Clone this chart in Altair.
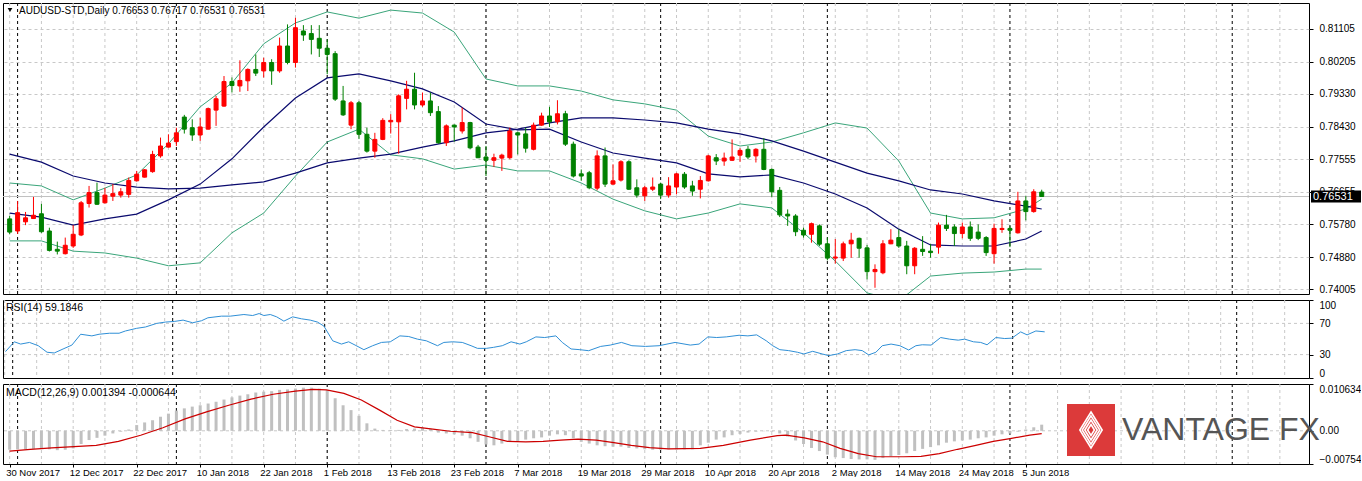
import altair as alt
import pandas as pd

# ---------------- data ----------------
date_labels = ["30 Nov 2017", "12 Dec 2017", "22 Dec 2017", "10 Jan 2018", "22 Jan 2018",
               "1 Feb 2018", "13 Feb 2018", "23 Feb 2018", "7 Mar 2018", "19 Mar 2018",
               "29 Mar 2018", "10 Apr 2018", "20 Apr 2018", "2 May 2018", "14 May 2018",
               "24 May 2018", "5 Jun 2018"]
date_label_idx = [0, 8, 16, 24, 32, 40, 48, 56, 64, 72, 80, 88, 96, 104, 112, 120, 128]
month_sep_idx = [1, 21, 40, 60, 82, 103, 126, 154]
grid_idx = list(range(0, 164, 4))
price_ticks = [0.74005, 0.74880, 0.75780, 0.76655, 0.77555, 0.78430, 0.79330, 0.80205, 0.81105]
rsi_ticks = [0, 30, 70, 100]
rsi_levels = [30, 70]
macd_ticks = [-0.007542, 0.0, 0.010634]
last_price = [0.76531]

opens = [0.7592, 0.7559, 0.7584, 0.7593, 0.7606, 0.7559, 0.7509, 0.7497, 0.7518, 0.7548,
         0.7634, 0.7664, 0.7636, 0.7654, 0.7657, 0.7659, 0.7696, 0.7706, 0.7721, 0.7764,
         0.7788, 0.7803, 0.7870, 0.7841, 0.7821, 0.7837, 0.7889, 0.7900, 0.7967, 0.7955,
         0.7969, 0.8000, 0.7996, 0.8019, 0.7996, 0.8064, 0.8019, 0.8105, 0.8098, 0.8085,
         0.8058, 0.8043, 0.7914, 0.7848, 0.7909, 0.7823, 0.7777, 0.7809, 0.7857, 0.7857,
         0.7921, 0.7946, 0.7903, 0.7914, 0.7885, 0.7800, 0.7848, 0.7832, 0.7855, 0.7788,
         0.7761, 0.7752, 0.7758, 0.7759, 0.7827, 0.7824, 0.7782, 0.7848, 0.7873, 0.7857,
         0.7879, 0.7796, 0.7715, 0.7718, 0.7676, 0.7764, 0.7687, 0.7698, 0.7748, 0.7677,
         0.7655, 0.7673, 0.7687, 0.7657, 0.7679, 0.7714, 0.7682, 0.7673, 0.7696, 0.7759,
         0.7750, 0.7752, 0.7766, 0.7782, 0.7764, 0.7782, 0.7727, 0.7670, 0.7605, 0.7600,
         0.7561, 0.7550, 0.7573, 0.7524, 0.7485, 0.7485, 0.7524, 0.7539, 0.7513, 0.7448,
         0.7445, 0.7524, 0.7541, 0.7518, 0.7464, 0.7509, 0.7504, 0.7515, 0.7575, 0.7570,
         0.7552, 0.7570, 0.7556, 0.7541, 0.7497, 0.7563, 0.7566, 0.7554, 0.7641, 0.7612,
         0.76653]
highs = [0.7600, 0.7641, 0.7611, 0.7652, 0.7633, 0.7568, 0.7530, 0.7541, 0.7575, 0.7641,
         0.7682, 0.7691, 0.7677, 0.7687, 0.7676, 0.7705, 0.7723, 0.7728, 0.7778, 0.7814,
         0.7823, 0.7841, 0.7876, 0.7864, 0.7868, 0.7896, 0.7928, 0.7982, 0.7978, 0.8025,
         0.8003, 0.8041, 0.8032, 0.8028, 0.8087, 0.8123, 0.8141, 0.8121, 0.8121, 0.8121,
         0.8082, 0.8050, 0.7955, 0.7914, 0.7914, 0.7841, 0.7827, 0.7867, 0.7878, 0.7932,
         0.7969, 0.7991, 0.7937, 0.7937, 0.7900, 0.7850, 0.7850, 0.7896, 0.7857, 0.7794,
         0.7791, 0.7770, 0.7770, 0.7841, 0.7830, 0.7841, 0.7855, 0.7882, 0.7898, 0.7916,
         0.7887, 0.7803, 0.7727, 0.7723, 0.7779, 0.7787, 0.7741, 0.7752, 0.7752, 0.7700,
         0.7682, 0.7705, 0.7691, 0.7706, 0.7718, 0.7720, 0.7696, 0.7709, 0.7767, 0.7769,
         0.7773, 0.7809, 0.7785, 0.7791, 0.7785, 0.7812, 0.7730, 0.7679, 0.7618, 0.7605,
         0.7568, 0.7582, 0.7577, 0.7541, 0.7537, 0.7530, 0.7554, 0.7541, 0.7521, 0.7468,
         0.7534, 0.7564, 0.7564, 0.7532, 0.7515, 0.7545, 0.7523, 0.7582, 0.7603, 0.7577,
         0.7582, 0.7585, 0.7577, 0.7545, 0.7579, 0.7591, 0.7573, 0.7666, 0.7654, 0.7673,
         0.76717]
lows = [0.7550, 0.7551, 0.7575, 0.7592, 0.7554, 0.7503, 0.7495, 0.7495, 0.7513, 0.7545,
        0.7623, 0.7630, 0.7634, 0.7641, 0.7650, 0.7650, 0.7694, 0.7705, 0.7718, 0.7759,
        0.7787, 0.7791, 0.7825, 0.7805, 0.7805, 0.7836, 0.7846, 0.7898, 0.7937, 0.7939,
        0.7941, 0.7982, 0.7978, 0.7958, 0.7991, 0.8014, 0.8005, 0.8078, 0.8041, 0.8034,
        0.7987, 0.7914, 0.7873, 0.7837, 0.7810, 0.7773, 0.7759, 0.7807, 0.7825, 0.7770,
        0.7891, 0.7891, 0.7898, 0.7873, 0.7797, 0.7791, 0.7803, 0.7825, 0.7782, 0.7758,
        0.7709, 0.7734, 0.7723, 0.7755, 0.7768, 0.7773, 0.7779, 0.7846, 0.7843, 0.7850,
        0.7791, 0.7705, 0.7696, 0.7673, 0.7670, 0.7679, 0.7685, 0.7694, 0.7671, 0.7650,
        0.7641, 0.7668, 0.7646, 0.7650, 0.7659, 0.7674, 0.7655, 0.7648, 0.7694, 0.7739,
        0.7737, 0.7750, 0.7748, 0.7755, 0.7746, 0.7725, 0.7652, 0.7597, 0.7573, 0.7545,
        0.7541, 0.7527, 0.7518, 0.7479, 0.7470, 0.7477, 0.7486, 0.7486, 0.7427, 0.7404,
        0.7441, 0.7523, 0.7513, 0.7441, 0.7441, 0.7491, 0.7486, 0.7497, 0.7559, 0.7518,
        0.7539, 0.7532, 0.7534, 0.7491, 0.7470, 0.7554, 0.7515, 0.7552, 0.7588, 0.7609,
        0.76531]
closes = [0.7556, 0.7609, 0.7595, 0.7602, 0.7557, 0.7506, 0.7504, 0.7520, 0.7550, 0.7636,
          0.7664, 0.7632, 0.7657, 0.7661, 0.7666, 0.7697, 0.7714, 0.7726, 0.7768, 0.7791,
          0.7799, 0.7827, 0.7837, 0.7821, 0.7843, 0.7893, 0.7920, 0.7967, 0.7956, 0.7970,
          0.8000, 0.7990, 0.8019, 0.7996, 0.8064, 0.8019, 0.8114, 0.8094, 0.8082, 0.8058,
          0.8041, 0.7919, 0.7876, 0.7909, 0.7823, 0.7777, 0.7809, 0.7861, 0.7861, 0.7928,
          0.7946, 0.7903, 0.7914, 0.7882, 0.7800, 0.7846, 0.7843, 0.7855, 0.7786, 0.7759,
          0.7752, 0.7759, 0.7766, 0.7832, 0.7821, 0.7785, 0.7848, 0.7873, 0.7857, 0.7879,
          0.7796, 0.7709, 0.7709, 0.7677, 0.7764, 0.7687, 0.7696, 0.7748, 0.7673, 0.7657,
          0.7677, 0.7679, 0.7657, 0.7682, 0.7715, 0.7679, 0.7668, 0.7697, 0.7764, 0.7750,
          0.7758, 0.7761, 0.7779, 0.7761, 0.7782, 0.7727, 0.7666, 0.7603, 0.7600, 0.7557,
          0.7548, 0.7579, 0.7523, 0.7485, 0.7488, 0.7524, 0.7534, 0.7512, 0.7448, 0.7454,
          0.7524, 0.7534, 0.7518, 0.7464, 0.7512, 0.7503, 0.7500, 0.7575, 0.7566, 0.7552,
          0.7570, 0.7539, 0.7539, 0.7500, 0.7566, 0.7566, 0.7561, 0.7641, 0.7612, 0.7666,
          0.76531]

band_idx = [0, 4, 8, 12, 16, 20, 24, 28, 32, 36, 40, 44, 48, 52, 56, 60, 64, 68, 72, 76,
            80, 84, 88, 92, 96, 100, 104, 108, 112, 116, 120, 124, 128, 130]
bb_upper = [0.7690, 0.7682, 0.7644, 0.7676, 0.7712, 0.7797, 0.7898, 0.7963, 0.8070, 0.8127,
            0.8157, 0.8140, 0.8162, 0.8154, 0.8102, 0.7974, 0.7955, 0.7955, 0.7941, 0.7917,
            0.7906, 0.7889, 0.7818, 0.7791, 0.7802, 0.7827, 0.7854, 0.7840, 0.7750, 0.7608,
            0.7592, 0.7595, 0.7619, 0.7646]
bb_middle = [0.7608, 0.7597, 0.7575, 0.7592, 0.7605, 0.7644, 0.7687, 0.7756, 0.7843, 0.7922,
             0.7977, 0.7988, 0.7969, 0.7947, 0.7911, 0.7851, 0.7835, 0.7837, 0.7802, 0.7772,
             0.7758, 0.7745, 0.7715, 0.7707, 0.7712, 0.7690, 0.7660, 0.7622, 0.7564, 0.7521,
             0.7518, 0.7518, 0.7537, 0.7559]
bb_lower = [0.7532, 0.7532, 0.7504, 0.7499, 0.7485, 0.7464, 0.7472, 0.7554, 0.7608, 0.7709,
            0.7802, 0.7837, 0.7767, 0.7756, 0.7728, 0.7739, 0.7723, 0.7723, 0.7690, 0.7646,
            0.7614, 0.7592, 0.7608, 0.7633, 0.7622, 0.7554, 0.7477, 0.7390, 0.7368, 0.7436,
            0.7444, 0.7447, 0.7455, 0.7455]
ma_slow = [0.7769, 0.7747, 0.7709, 0.7690, 0.7679, 0.7674, 0.7676, 0.7685, 0.7693, 0.7717,
           0.7745, 0.7758, 0.7769, 0.7788, 0.7805, 0.7827, 0.7837, 0.7854, 0.7868, 0.7868,
           0.7862, 0.7854, 0.7837, 0.7824, 0.7805, 0.7777, 0.7747, 0.7717, 0.7696, 0.7671,
           0.7660, 0.7641, 0.7627, 0.7619]

rsi_idx = [0.1, 1.2, 2.0, 3.1, 4.2, 5.3, 6.2, 7.3, 8.4, 9.5, 10.9, 11.8, 13.1, 14.3, 15.1,
           16.5, 17.6, 19.0, 20.1, 21.2, 22.3, 23.5, 24.6, 25.4, 27.1, 28.2, 29.9, 31.0, 31.8,
           32.4, 33.2, 34.0, 34.9, 36.0, 37.1, 38.2, 39.1, 39.9, 41.0, 42.1, 43.0, 43.8, 44.9,
           46.0, 47.1, 48.2, 49.4, 50.5, 51.6, 52.7, 54.1, 54.9, 56.0, 57.2, 58.3, 59.1, 60.2,
           61.1, 62.2, 63.3, 64.4, 65.2, 66.4, 67.5, 68.9, 69.7, 70.8, 71.9, 73.0, 74.5, 75.7,
           77.1, 78.4, 80.1, 81.8, 83.8, 85.7, 86.8, 87.9, 89.0, 90.2, 91.8, 92.9, 94.0, 95.2,
           96.0, 96.9, 98.0, 99.1, 99.9, 101.0, 102.2, 103.0, 104.1, 105.2, 106.3, 107.2, 108.0,
           108.9, 109.7, 110.8, 111.9, 113.0, 113.9, 114.7, 115.8, 117.0, 118.1, 119.2, 120.0,
           121.1, 122.0, 122.8, 123.9, 125.0, 125.9, 127.0, 127.8, 128.9, 130.0]
rsi_val = [33.8, 46.4, 43.5, 45.6, 41.4, 33.0, 32.1, 37.2, 42.2, 56.1, 54.0, 56.1, 57.4, 57.4, 60.3,
           63.7, 65.4, 70.0, 71.7, 72.5, 74.2, 70.8, 73.4, 77.2, 79.3, 79.3, 81.4, 80.1, 82.6,
           80.1, 81.4, 78.4, 72.9, 78.4, 75.9, 74.2, 71.7, 66.6, 47.7, 43.5, 46.4, 42.2, 36.3,
           41.4, 45.6, 46.4, 54.0, 53.2, 49.8, 47.7, 41.4, 45.6, 46.4, 45.6, 41.4, 38.0, 38.0,
           39.3, 41.4, 46.4, 43.5, 46.4, 52.7, 51.9, 54.0, 45.6, 37.2, 36.3, 35.0, 40.5, 42.2,
           45.6, 41.4, 40.5, 41.4, 45.6, 42.2, 43.5, 52.7, 51.9, 52.7, 54.8, 54.0, 55.3, 47.7,
           41.4, 36.3, 35.1, 33.0, 30.8, 34.2, 30.8, 28.7, 30.8, 35.1, 36.3, 35.1, 29.6,
           33.0, 41.4, 43.5, 41.4, 35.9, 41.4, 42.6, 42.2, 51.9, 49.8, 48.5, 49.8,
           46.4, 45.6, 42.6, 51.9, 50.6, 51.1, 59.1, 55.3, 60.3, 59.18]

macd_main = [-0.0043, -0.0042, -0.0042, -0.0041, -0.0040, -0.0042, -0.0044, -0.0043, -0.0040, -0.0030,
             -0.0021, -0.0016, -0.0011, -0.0006, -0.0002, 0.0003, 0.0013, 0.0019, 0.0024, 0.0032,
             0.0039, 0.0046, 0.0051, 0.0055, 0.0058, 0.0062, 0.0066, 0.0071, 0.0076, 0.0080,
             0.0083, 0.0087, 0.0089, 0.0090, 0.0093, 0.0094, 0.0096, 0.0098, 0.0098, 0.0096,
             0.0093, 0.0074, 0.0058, 0.0047, 0.0034, 0.0017, 0.0005, 0.0002, 0.0002, 0.0002,
             0.0004, 0.0005, 0.0007, 0.0004, -0.0004, -0.0006, -0.0008, -0.0011, -0.0017, -0.0025,
             -0.0031, -0.0033, -0.0029, -0.0025, -0.0024, -0.0020, -0.0017, -0.0015, -0.0011, -0.0008,
             -0.0010, -0.0017, -0.0025, -0.0029, -0.0033, -0.0035, -0.0036, -0.0036, -0.0039, -0.0040,
             -0.0042, -0.0043, -0.0043, -0.0042, -0.0042, -0.0042, -0.0042, -0.0033, -0.0027, -0.0020,
             -0.0015, -0.0010, -0.0007, -0.0004, -0.0002, -0.0001, -0.0002, -0.0006, -0.0013, -0.0022,
             -0.0030, -0.0039, -0.0046, -0.0054, -0.0060, -0.0062, -0.0064, -0.0065, -0.0065, -0.0066,
             -0.0062, -0.0058, -0.0055, -0.0051, -0.0046, -0.0041, -0.0037, -0.0033, -0.0027, -0.0024,
             -0.0022, -0.0020, -0.0017, -0.0015, -0.0011, -0.0008, -0.0006, -0.0002, 0.0003, 0.0008,
             0.001394]
sig_idx = [0, 2.6, 5.3, 8.1, 10.9, 13.7, 16.5, 19.3, 22.1, 24.8, 27.6, 30.4, 33.2, 36.0, 38.2,
           39.9, 42.1, 44.3, 46.6, 48.8, 51.0, 53.3, 55.5, 58.3, 60.5, 62.7, 65.0, 67.2, 69.4, 71.6,
           73.9, 76.1, 78.3, 80.6, 83.0, 87.0, 89.9, 93.3, 96.7, 97.8, 100.1, 102.4, 104.6, 106.9,
           109.2, 112.6, 114.8, 117.1, 119.4, 121.7, 123.9, 126.2, 128.5, 130]
sig_val = [-0.0046, -0.0042, -0.0039, -0.0036, -0.0033, -0.0024, -0.0010, 0.0007, 0.0027, 0.0043,
           0.0058, 0.0072, 0.0083, 0.0090, 0.0094, 0.0093, 0.0085, 0.0070, 0.0047, 0.0024,
           0.0009, 0.0004, -0.0001, -0.0004, -0.0014, -0.0024, -0.0025, -0.0024, -0.0021, -0.0019,
           -0.0021, -0.0027, -0.0033, -0.0038, -0.0041, -0.0040, -0.0033, -0.0021, -0.0011, -0.0010,
           -0.0016, -0.0025, -0.0040, -0.0052, -0.0059, -0.0059, -0.0058, -0.0052, -0.0042, -0.0033,
           -0.0024, -0.0017, -0.0010, -0.000644]

title_main = "AUDUSD-STD,Daily  0.76653 0.76717 0.76531 0.76531"
title_rsi = "RSI(14) 59.1846"
title_macd = "MACD(12,26,9) 0.001394 -0.000644"
logo_text = "VANTAGE FX"

# ---------------- tables ----------------
candles = pd.DataFrame({"i": list(range(len(opens))), "open": opens, "high": highs,
                        "low": lows, "close": closes})
candles["dir"] = ["up" if c >= o else "down" for o, c in zip(opens, closes)]
bands = pd.DataFrame({"i": band_idx, "upper": bb_upper, "middle": bb_middle,
                      "lower": bb_lower, "slow": ma_slow})
rsi_df = pd.DataFrame({"i": rsi_idx, "v": rsi_val})
macd_df = pd.DataFrame({"i": list(range(len(macd_main))), "v": macd_main})
sig_df = pd.DataFrame({"i": sig_idx, "v": sig_val})
one = pd.DataFrame({"a": [0]})

W = 1306
FONT = "Liberation Sans"
xs = alt.Scale(domain=[-0.21, 163.04], nice=False, zero=False)
ys_main = alt.Scale(domain=[0.7387, 0.81814], nice=False, zero=False)
ys_rsi = alt.Scale(domain=[0, 100], nice=False, zero=False)
ys_macd = alt.Scale(domain=[-0.007542, 0.010634], nice=False, zero=False)

dir_color = alt.Scale(domain=["up", "down"], range=["#ff0000", "#008000"])

price_axis = alt.Axis(orient="right", values=price_ticks, format=".5f", grid=True,
                      gridDash=[3, 3], gridColor="#c8c8c8", tickSize=4, title=None,
                      labelPadding=6, domain=False)
rsi_axis = alt.Axis(orient="right", values=rsi_ticks, grid=False, tickSize=4, title=None,
                    labelFlush=True, labelPadding=6, domain=False)
macd_axis = alt.Axis(orient="right", values=macd_ticks, grid=False, tickSize=4, title=None,
                     labelFlush=True, labelPadding=6, domain=False,
                     labelExpr="datum.value == 0 ? '0.00' : format(datum.value, '.6f')")
label_arr = "[" + ",".join("'" + d + "'" for d in date_labels) + "]"
date_axis = alt.Axis(values=date_label_idx, labelExpr=label_arr + "[round(datum.value / 8)]",
                     labelAlign="left", labelOffset=-4, labelFlush=False, tickSize=3, grid=False,
                     title=None, labelPadding=0, domain=False, labelOverlap=False,
                     labelFontSize=9.5)


def X(field, axis=None):
    return alt.X(field, type="quantitative", scale=xs, axis=axis)


def vgrid(axis=None):
    return alt.Chart(pd.DataFrame({"i": grid_idx})).mark_rule(
        color="#c8c8c8", strokeDash=[3, 3], strokeWidth=1).encode(x=X("i", axis))


def seps(axis=None):
    return alt.Chart(pd.DataFrame({"i": month_sep_idx})).mark_rule(
        color="black", strokeDash=[3, 3], strokeWidth=1).encode(x=X("i", axis))


def label(text, x, y, size=10.5):
    return alt.Chart(one).mark_text(align="left", baseline="middle", font=FONT,
                                    fontSize=size, color="black").encode(
        x=alt.value(x), y=alt.value(y), text=alt.value(text))


def YM(field):
    return alt.Y(field, type="quantitative", scale=ys_main, axis=price_axis)


# ---------------- main panel ----------------
price_line = alt.Chart(pd.DataFrame({"p": last_price})).mark_rule(
    color="#c0c0c0", strokeWidth=1).encode(y=YM("p"))
band_base = alt.Chart(bands)
upper = band_base.mark_line(color="#3aa57a", strokeWidth=1, clip=True).encode(x=X("i"), y=YM("upper"))
lower = band_base.mark_line(color="#3aa57a", strokeWidth=1, clip=True).encode(x=X("i"), y=YM("lower"))
middle = band_base.mark_line(color="#0a0a6e", strokeWidth=1.2, clip=True).encode(x=X("i"), y=YM("middle"))
slow = band_base.mark_line(color="#0a0a6e", strokeWidth=1.2, clip=True).encode(x=X("i"), y=YM("slow"))

wicks = alt.Chart(candles).mark_rule(strokeWidth=1).encode(
    x=X("i"), y=YM("low"), y2="high",
    color=alt.Color("dir:N", scale=dir_color, legend=None))
bodies = alt.Chart(candles).mark_bar(size=4, strokeWidth=1).encode(
    x=X("i"), y=YM("open"), y2="close",
    color=alt.Color("dir:N", scale=dir_color, legend=None),
    stroke=alt.Stroke("dir:N", scale=dir_color, legend=None))

tag_bg = alt.Chart(pd.DataFrame({"p": last_price})).mark_rule(
    color="black", strokeWidth=12, clip=False).encode(
    x=alt.value(W + 2), x2=alt.value(W + 52), y=YM("p"))
tag_txt = alt.Chart(pd.DataFrame({"p": last_price})).mark_text(
    align="left", baseline="middle", font=FONT, fontSize=11, color="white").encode(
    x=alt.value(W + 4), y=YM("p"), text=alt.value("0.76531"))
tri = alt.Chart(one).mark_point(shape="triangle-down", filled=True, size=22, color="black",
                                opacity=1).encode(x=alt.value(7), y=alt.value(7))

main = alt.layer(vgrid(), seps(), price_line, upper, lower, middle, slow, wicks, bodies,
                 tag_bg, tag_txt, tri, label(title_main, 16, 8, 10)).properties(width=W, height=291)

# ---------------- RSI panel ----------------
rsi_lv = alt.Chart(pd.DataFrame({"v": rsi_levels})).mark_rule(
    color="#c8c8c8", strokeDash=[3, 3]).encode(
    y=alt.Y("v", type="quantitative", scale=ys_rsi, axis=rsi_axis))
rsi_line = alt.Chart(rsi_df).mark_line(color="#2f8fd6", strokeWidth=1).encode(
    x=X("i"), y=alt.Y("v", type="quantitative", scale=ys_rsi, axis=rsi_axis))
rsi = alt.layer(vgrid(), seps(), rsi_lv, rsi_line, label(title_rsi, 3, 8)).properties(
    width=W, height=78)

# ---------------- MACD panel ----------------
def YD(field):
    return alt.Y(field, type="quantitative", scale=ys_macd, axis=macd_axis)


zero_line = alt.Chart(pd.DataFrame({"v": [0.0]})).mark_rule(
    color="#c8c8c8", strokeDash=[3, 3]).encode(y=YD("v"))
hist = alt.Chart(macd_df).mark_bar(size=3, color="#c0c0c0").encode(
    x=X("i", date_axis), y=YD("v"), y2=alt.datum(0))
sig = alt.Chart(sig_df).mark_line(color="#cc0000", strokeWidth=1.2).encode(
    x=X("i", date_axis), y=YD("v"))

logo_box = alt.Chart(one).mark_rect(color="#dc3a3a").encode(
    x=alt.value(1064), x2=alt.value(1112), y=alt.value(20), y2=alt.value(72))
diamond = "M0,-1L0.62,0L0,1L-0.62,0Z"
logo_diam = alt.Chart(pd.DataFrame({"s": [1300, 800, 400, 120]})).mark_point(
    shape=diamond, filled=False, color="white", strokeWidth=1.6, opacity=1).encode(
    x=alt.value(1088), y=alt.value(46), size=alt.Size("s:Q", scale=None, legend=None))
logo_txt = alt.Chart(one).mark_text(align="left", baseline="middle", font=FONT,
                                    fontSize=32, color="#555555").encode(
    x=alt.value(1119), y=alt.value(46), text=alt.value(logo_text))

macd = alt.layer(vgrid(date_axis), seps(date_axis), zero_line, hist, sig, logo_box, logo_diam,
                 logo_txt, label(title_macd, 3, 9)).properties(width=W, height=80)

chart = alt.vconcat(main, rsi, macd, spacing=4).resolve_scale(
    y="independent", color="independent", stroke="independent", size="independent"
).properties(
    padding={"left": 2, "top": 2, "right": -7, "bottom": 0},
    background="white",
).configure_view(
    stroke="black", strokeWidth=1
).configure_axis(
    labelFont=FONT, labelFontSize=10, labelColor="black", tickColor="black"
)

chart.save("out.html", embed_options={"renderer": "svg", "actions": False})
